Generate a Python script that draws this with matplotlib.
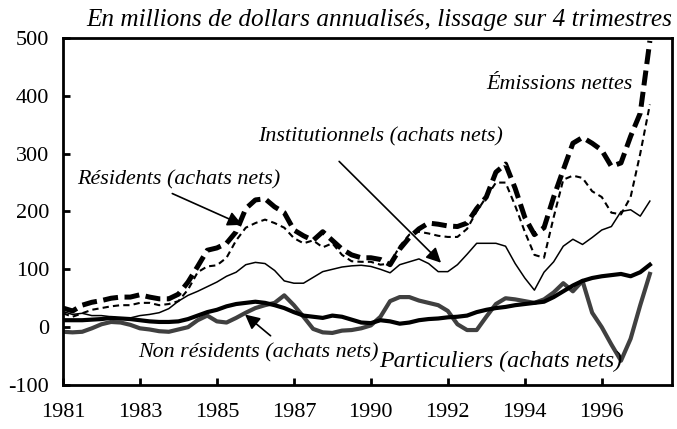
import matplotlib.pyplot as plt

# quarterly series, 1981Q1 onward, 4-quarter smoothing (millions $)
emissions = [33, 28, 38, 43, 46, 50, 52, 52, 56, 52, 49, 49, 57, 78, 105, 133,
             137, 145, 165, 205, 220, 222, 208, 198, 168, 158, 150, 165, 150, 135, 125, 120,
             120, 117, 108, 135, 155, 170, 180, 178, 175, 174, 180, 205, 225, 268,
             282, 240, 190, 160, 172, 225, 272, 318, 328, 318, 306, 278, 284, 330, 370, 495]
residents = [24, 18, 24, 30, 33, 36, 38, 38, 42, 42, 38, 40, 45, 65, 95, 105,
             107, 120, 150, 172, 180, 186, 180, 172, 154, 145, 150, 138, 145, 125, 114, 113,
             113, 108, 110, 140, 160, 165, 162, 158, 156, 156, 170, 200, 225, 250,
             250, 210, 165, 125, 120, 190, 255, 262, 258, 235, 225, 198, 195, 225, 300, 385]
institutionnels = [27, 22, 24, 20, 20, 18, 15, 16, 20, 22, 25, 32, 45, 55, 62, 70,
                   78, 88, 95, 108, 112, 110, 98, 80, 76, 76, 86, 96, 100, 104, 106, 107,
                   105, 100, 94, 108, 113, 118, 110, 96, 96, 108, 126, 145, 145, 145,
                   140, 110, 85, 64, 95, 113, 140, 152, 143, 155, 168, 174, 200, 203, 192, 218]
non_residents = [12, 12, 12, 13, 14, 16, 15, 14, 12, 10, 9, 9, 10, 14, 20, 26,
                 30, 36, 40, 42, 44, 42, 38, 33, 26, 20, 18, 16, 20, 18, 13, 8,
                 7, 12, 10, 6, 8, 12, 14, 15, 17, 18, 20, 26, 30, 33,
                 35, 38, 40, 42, 44, 52, 62, 72, 80, 85, 88, 90, 92, 88, 95, 108]
particuliers = [-8, -9, -8, -2, 5, 9, 8, 4, -2, -4, -7, -8, -4, 0, 12, 20,
                10, 8, 16, 25, 33, 38, 42, 55, 38, 18, -3, -9, -10, -6, -5, -2,
                3, 18, 45, 52, 52, 46, 42, 38, 28, 5, -5, -5, 18, 40,
                50, 48, 45, 42, 48, 60, 76, 62, 80, 25, 0, -30, -58, -20, 38, 92]

tick_pos = [0, 8, 16, 24, 32, 40, 48, 56]
tick_labels = ['1981', '1983', '1985', '1987', '1990', '1992', '1994', '1996']

plt.rcParams['font.family'] = ['Liberation Serif', 'DejaVu Serif']
plt.rcParams['axes.unicode_minus'] = False

fig = plt.figure(figsize=(6.77, 4.29), dpi=100)
ax = fig.add_axes([0.093, 0.1026, 0.8996, 0.8088])

x = list(range(len(emissions)))

ax.plot(x, institutionnels, color='black', lw=1.1)
ax.plot(x, particuliers, color='#404040', lw=3.0)
ax.plot(x, non_residents, color='black', lw=3.0)
ax.plot(x, residents, color='black', lw=1.5, dashes=(3, 2))
ax.plot(x, emissions, color='black', lw=3.6, dashes=(3, 1.3))

ax.set_xlim(0, 63.3)
ax.set_ylim(-100, 500)
ax.set_yticks(range(-100, 501, 100))
ax.set_xticks(tick_pos)
ax.set_xticklabels(tick_labels)
ax.tick_params(direction='in', length=5, width=2, labelsize=16, pad=10)
ax.tick_params(axis='x', pad=13)
for s in ax.spines.values():
    s.set_linewidth(2)

ax.text(1.0, 1.02, 'En millions de dollars annualisés, lissage sur 4 trimestres',
        transform=ax.transAxes, ha='right', va='bottom', fontsize=18.2, style='italic')

it = dict(fontsize=15.8, style='italic', va='center')
ax.text(44.0, 419, 'Émissions nettes', **it)
ax.text(20.3, 329, 'Institutionnels (achats nets)', **it)
ax.text(1.5, 255, 'Résidents (achats nets)', **it)
ax.text(7.8, -53, 'Non résidents (achats nets)', fontsize=15.8, style='italic',
        va='baseline')
ax.text(32.9, -69, 'Particuliers (achats nets)', fontsize=17.2, style='italic',
        va='baseline')

arr = dict(arrowstyle='-|>', color='black', lw=1.2, mutation_scale=22)
ax.annotate('', xy=(18.9, 175), xytext=(11.1, 233), arrowprops=arr)
ax.annotate('', xy=(39.5, 108), xytext=(28.5, 290), arrowprops=arr)
ax.annotate('', xy=(18.7, 25), xytext=(21.8, -18), arrowprops=arr)

plt.savefig('out.png', dpi=100)
